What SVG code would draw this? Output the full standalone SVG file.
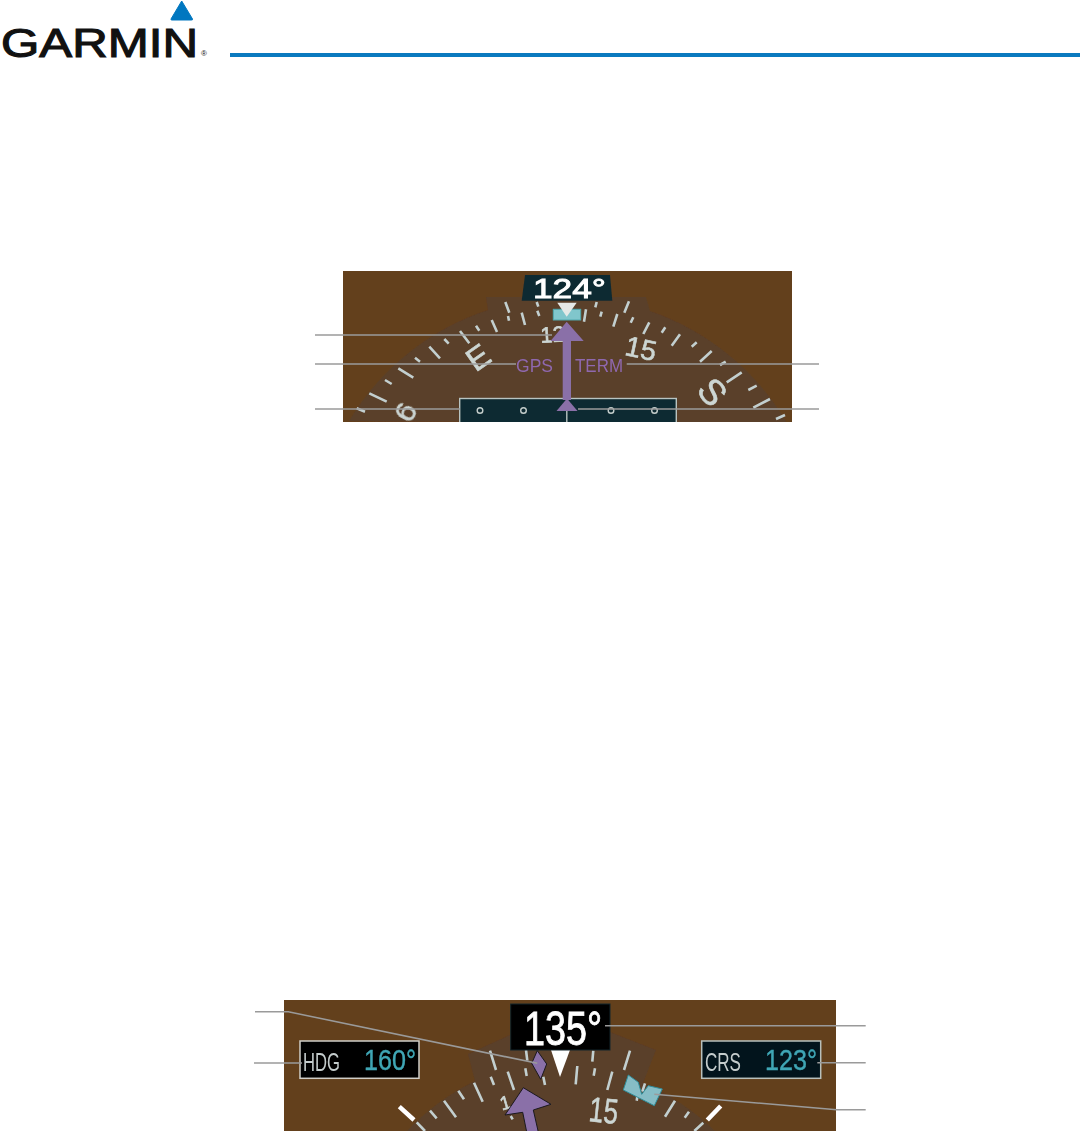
<svg xmlns="http://www.w3.org/2000/svg" width="1080" height="1131" viewBox="0 0 1080 1131">
<style>
.brown{fill:#633f1f}
.dial{fill:#5a3f29}
.tick{stroke:#c2cfcf;stroke-width:2.6;fill:none;stroke-linecap:butt}
.whitetick{stroke:#fff;stroke-width:4.5;fill:none}
.lab{font-family:"Liberation Sans",Arial,sans-serif;fill:#ccd6d3;stroke:#ccd6d3;stroke-width:.6}
.conn{stroke:#9a9a9a;stroke-width:1.6;fill:none}
.purple{fill:#8a6fa8}
.gt{font-family:"Liberation Sans",Arial,sans-serif;fill:#8f68ae;font-size:19px}
.cy{font-family:"Liberation Sans",Arial,sans-serif;fill:#3fa6b5;stroke:#3fa6b5;stroke-width:.4;font-size:30px}
.gr{font-family:"Liberation Sans",Arial,sans-serif;fill:#c4cccc;font-size:25px}
.wh{font-family:"Liberation Sans",Arial,sans-serif;fill:#fff;stroke:#fff}
.dot{fill:none;stroke:#c4cecc;stroke-width:1.4}
</style>
<defs>
<clipPath id="c1"><rect x="343" y="271" width="449" height="151"/></clipPath>
<clipPath id="c2"><rect x="284" y="1000" width="552" height="131"/></clipPath>
<filter id="soft" x="-5%" y="-5%" width="110%" height="110%"><feGaussianBlur stdDeviation="0.45"/></filter>
</defs>
<rect width="1080" height="1131" fill="#fff"/>
<g id="logo">
<path d="M181.7 1 L171 19 Q170.5 20 172 20 L191.5 20 Q193 20 192.5 19 Z" fill="#0077c0" stroke="#0077c0" stroke-width="1" stroke-linejoin="round"/>
<text x="1" y="56.5" font-family="'Liberation Sans',Arial,sans-serif" font-size="40" textLength="197" lengthAdjust="spacingAndGlyphs" fill="#111" stroke="#111" stroke-width="1.1">GARMIN</text>
<text x="201" y="56" font-family="'Liberation Sans',Arial,sans-serif" font-size="8" fill="#111">®</text>
<rect x="230" y="53" width="850" height="4" fill="#0a7abf"/>
</g>
<g id="hsi-top" clip-path="url(#c1)">
<g filter="url(#soft)">
<rect class="brown" x="343" y="271" width="449" height="151"/>
<path class="dial" d="M349 421 A255 255 0 0 1 488 310 L486 297 L646 297 L650 311 A255 255 0 0 1 787 423 Z"/>
<g id="top-ticks">
<path class="tick" d="M505.3 302L509.3 312.7M508 316L509 320.7M521.7 312.7L525 325M536.7 302L538.3 306.7M537.3 310.7L539.3 316M491.7 320L497 332M476 325.7L479.3 330.7M460 331L469.3 343.3M444.3 339L448.7 343.7M429.3 346.7L440 358.3M415 357.7L420 361.7M398.3 368.3L413.3 377.7M385 380L391.7 384M369.3 393.3L386.7 401.7M356.7 408.3L365 411.7"/>
<path class="tick" d="M586 309.3L584 321.7M596.7 302L595.3 307.3M601.7 311.7L600.3 316.7M617.3 314L613.3 326.7M629 301.3L624.3 312.7M633.3 317.3L630.7 322.7M649.3 322.3L643.3 334M665.3 327.3L661.7 332.7M680 334.3L671.7 345.7M696.7 342.3L691.7 346.7M711.7 351L700 361.7M725.7 361.7L720 365M741.7 372.3L726.7 382.3M756.7 385.7L748.3 390M770 399L753.3 407.7M785 415L776 419"/>
</g>
<text class="lab" font-size="32" text-anchor="middle" transform="translate(484.6 366.4) rotate(-35)">E</text>
<text class="lab" font-size="30" text-anchor="middle" transform="translate(414.5 417) rotate(-62)">6</text>
<text class="lab" font-size="28" text-anchor="middle" transform="translate(639 358) rotate(12)">15</text>
<text class="lab" font-size="36" text-anchor="middle" transform="translate(703 400) rotate(50)">S</text>
<text class="lab" font-size="22" text-anchor="middle" transform="translate(553 342) rotate(-3)">12</text>
<polygon points="521.7,300.7 525,275 610,275 612.3,300.7" fill="#0e2a30"/>
<text class="wh" x="533" y="297.5" font-size="27" stroke-width=".9" textLength="73" lengthAdjust="spacingAndGlyphs">124°</text>
<rect x="553.3" y="309.3" width="27.4" height="10.7" fill="#80c6cc" stroke="#4fa9af" stroke-width="1"/>
<polygon points="557.3,302.7 576.7,302.7 566.7,316.7" fill="#e4e8e6"/>
<text class="gt" x="516" y="372" textLength="37" lengthAdjust="spacingAndGlyphs">GPS</text>
<text class="gt" x="575" y="372" textLength="48" lengthAdjust="spacingAndGlyphs">TERM</text>
<rect x="459.7" y="398.5" width="216.6" height="30" fill="#0e2a30" stroke="#b8c4c2" stroke-width="1.4"/>
<line x1="566.8" y1="410" x2="566.8" y2="423" stroke="#b8c4c2" stroke-width="1.4"/>
<circle class="dot" cx="480" cy="410.5" r="2.8"/><circle class="dot" cx="523.5" cy="410.5" r="2.8"/><circle class="dot" cx="611" cy="410.5" r="2.8"/><circle class="dot" cx="654.5" cy="410.5" r="2.8"/>
<polygon class="purple" points="566.7,321.7 583.7,341 571,341 571,400 562.7,400 562.7,341 550.5,341"/>
<polygon class="purple" points="567,398.5 577.5,411 556.5,411"/>
</g>
</g>
<g id="hsi-bottom" clip-path="url(#c2)">
<g filter="url(#soft)">
<rect class="brown" x="284" y="1000" width="552" height="131"/>
<path class="dial" d="M468 1054 L510 1035 L610 1032 L656 1050 L643 1083 A240 240 0 0 1 716 1132 L406 1132 A240 240 0 0 1 475 1081 Z"/>
<g id="bottom-ticks">
<path class="tick" d="M490 1050.7L496 1070M490.7 1076.7L494 1085M507.7 1071.7L514 1090M526 1050L527.3 1060.7M525.3 1068.3L526.7 1076M543.3 1076.7L545 1085M474 1082.7L482.7 1101.7M458.3 1090.7L464 1099.3M444 1100.7L456 1117.3M430 1110.7L436.7 1118.3M416.7 1122.3L425 1131M510.7 1116L512.7 1119.3"/>
<path class="tick" d="M593.3 1050.7L592.3 1061.7M595 1068.3L593.7 1075.7M577.3 1066L575.7 1084.3M612.3 1071.7L607.3 1090M630 1050.7L624 1070M645 1083.3L642.3 1091.7M637.3 1096.7L636.7 1100.7M675 1100.7L665 1116.7M689 1111.7L684.7 1117.7M703.3 1122.7L694.3 1131"/>
<path class="whitetick" d="M399.3 1106.7L414 1120M720.7 1106L707.3 1120"/>
</g>
<text class="lab" font-size="19" text-anchor="middle" transform="translate(507 1109) rotate(-16)">1</text>
<text class="lab" font-size="35" text-anchor="start" transform="translate(588 1121) rotate(6)" textLength="29" lengthAdjust="spacingAndGlyphs">15</text>
<polygon points="628.3,1075 623.3,1090 654.3,1105.7 662.3,1089 648.3,1085.7 641.7,1094.3 638.3,1082.3" fill="#86bdc6" stroke="#2f8f9c" stroke-width="1"/>
<polygon points="551,1050 570,1050 560,1077" fill="#fff"/>
<polygon class="purple" points="537.3,1050.7 546.7,1064 540.7,1079.3 531.7,1063.3" stroke="#1a1a20" stroke-width="1"/>
<polygon class="purple" points="523.3,1087.7 551,1104.3 533.3,1110 538.3,1132 526.7,1132 522.7,1112.3 505,1115" stroke="#1a1a20" stroke-width="1"/>
</g>
</g>
<g id="hdg-box">
<rect x="300" y="1041" width="119" height="37.3" fill="#000" stroke="#d0cec8" stroke-width="1.5"/>
<text class="gr" x="303" y="1071" textLength="37" lengthAdjust="spacingAndGlyphs">HDG</text>
<text class="cy" x="364" y="1070" textLength="52" lengthAdjust="spacingAndGlyphs">160°</text>
</g>
<g id="crs-box">
<rect x="701.7" y="1041" width="119" height="37.3" fill="#02141c" stroke="#b8c0bc" stroke-width="1.5"/>
<text class="gr" x="705" y="1071" textLength="36" lengthAdjust="spacingAndGlyphs">CRS</text>
<text class="cy" x="765" y="1070" textLength="52" lengthAdjust="spacingAndGlyphs">123°</text>
</g>
<g id="current-heading">
<rect x="510.7" y="1004" width="99.3" height="46" fill="#000" stroke="#12242a" stroke-width="1"/>
<text class="wh" x="524" y="1045" font-size="48" stroke-width=".9" textLength="78" lengthAdjust="spacingAndGlyphs">135°</text>
</g>
<g id="connectors">
<path class="conn" d="M315 335H552M315 364H516M315 409H460M626.7 364H819M578 409H819"/>
<path class="conn" d="M255 1011.7H288.3L537.3 1063.3M254 1063H302M605 1025.7H865.7M817.3 1062.7H865.7M654.3 1094.3L836.7 1109.7H865.7"/>
</g>
</svg>
